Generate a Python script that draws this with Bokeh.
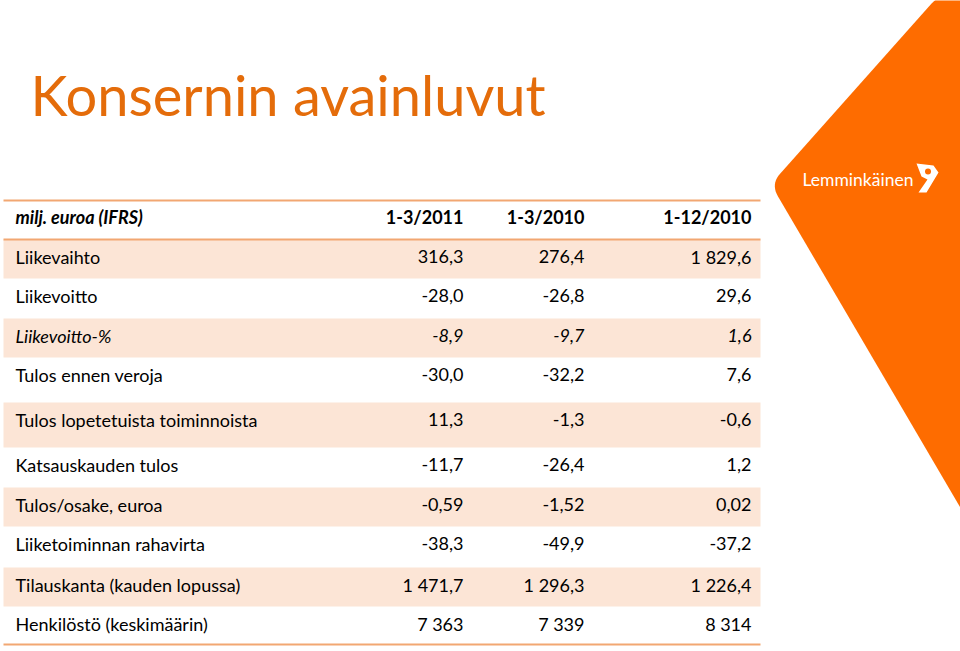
from bokeh.plotting import figure
from bokeh.models import Range1d, ColumnDataSource
from bokeh.core.properties import value
from bokeh.embed import file_html
from bokeh.resources import INLINE

# ---------------- data ----------------
title = "Konsernin avainluvut"
unit_label = "milj. euroa (IFRS)"
periods = ["1-3/2011", "1-3/2010", "1-12/2010"]
labels = [
    "Liikevaihto",
    "Liikevoitto",
    "Liikevoitto-%",
    "Tulos ennen veroja",
    "Tulos lopetetuista toiminnoista",
    "Katsauskauden tulos",
    "Tulos/osake, euroa",
    "Liiketoiminnan rahavirta",
    "Tilauskanta (kauden lopussa)",
    "Henkilöstö (keskimäärin)",
]
q1_2011 = [316.3, -28.0, -8.9, -30.0, 11.3, -11.7, -0.59, -38.3, 1471.7, 7363]
q1_2010 = [276.4, -26.8, -9.7, -32.2, -1.3, -26.4, -1.52, -49.9, 1296.3, 7339]
fy_2010 = [1829.6, 29.6, 1.6, 7.6, -0.6, 1.2, 0.02, -37.2, 1226.4, 8314]
decimals = [1, 1, 1, 1, 1, 1, 2, 1, 1, 0]
italic_rows = ["Liikevoitto-%"]
brand = "Lemminkäinen"

# ---------------- layout (pixel space of the slide) ----------------
W, H = 960, 651
row_tops = [239, 278, 318, 357, 402, 447, 487, 526, 567, 606]
row_bottom_last = 644
header_top, header_text_y = 200, 216
text_drop = 17
table_left, table_right = 3, 760
label_x = 15
col_right = [463, 584, 751]

ORANGE = "#FE6C00"
TITLE_C = "#E46C0A"
LINE_C = "#F2A772"
SHADE_C = "#FCE5D6"
FONT = "Lato"
BODY_SIZE = "18px"


def fmt(v, d):
    s = f"{abs(v):,.{d}f}".replace(",", " ").replace(".", ",")
    return ("-" if v < 0 else "") + s


p = figure(width=W, height=H, x_range=Range1d(0, W), y_range=Range1d(H, 0),
           output_backend="svg", toolbar_location=None, x_axis_type=None, y_axis_type=None,
           min_border=0, outline_line_color=None, background_fill_color="white",
           border_fill_color="white")
p.xgrid.visible = False
p.ygrid.visible = False


# ---- orange brand shape (decoration) ----
def rounded_vertex(prev_pt, v, next_pt, r, n=10):
    import math
    def unit(a, b):
        dx, dy = b[0] - a[0], b[1] - a[1]
        L = math.hypot(dx, dy)
        return dx / L, dy / L
    u1 = unit(v, prev_pt)
    u2 = unit(v, next_pt)
    p0 = (v[0] + u1[0] * r, v[1] + u1[1] * r)
    p2 = (v[0] + u2[0] * r, v[1] + u2[1] * r)
    pts = []
    for i in range(n + 1):
        t = i / n
        x = (1 - t) ** 2 * p0[0] + 2 * (1 - t) * t * v[0] + t ** 2 * p2[0]
        y = (1 - t) ** 2 * p0[1] + 2 * (1 - t) * t * v[1] + t ** 2 * p2[1]
        pts.append((x, y))
    return pts

vertex = (770.3, 183.6)
top_corner = (933.5, 0.0)
bot_pt = (975, 533)
pts = ([(975, -10), (948, -10)]
       + rounded_vertex((948, -10), (935.5, -2), vertex, 10, 6)
       + rounded_vertex(top_corner, vertex, bot_pt, 14)
       + [bot_pt])
p.patch([q[0] for q in pts], [q[1] for q in pts], fill_color=ORANGE, line_color=None)

# brand text and mark
p.text(x=[802], y=[179], text=[brand], text_color="white", text_font=value(FONT),
       text_font_size=value("17.5px"), text_baseline="middle", text_align="left")
p.patch([916, 933, 938, 926, 918, 927, 921], [163, 165, 172, 192, 192, 179, 176],
        fill_color="white", line_color=None)
p.scatter([927.5], [171], size=6, fill_color=ORANGE, line_color=None)

# ---- title ----
p.text(x=[30], y=[94], text=[title], text_color=TITLE_C, text_font=value(FONT),
       text_font_size=value("56px"), text_baseline="middle", text_align="left")

# ---- table shading ----
bottoms = row_tops[1:] + [row_bottom_last]
shade_idx = [i for i in range(len(labels)) if i % 2 == 0]
p.quad(left=table_left, right=table_right,
       top=[row_tops[i] for i in shade_idx], bottom=[bottoms[i] for i in shade_idx],
       fill_color=SHADE_C, line_color=None)

# ---- rules ----
p.segment(x0=table_left, x1=table_right, y0=[header_top, row_tops[0], row_bottom_last],
          y1=[header_top, row_tops[0], row_bottom_last], line_color=LINE_C, line_width=2)

# ---- header ----
p.text(x=[label_x], y=[header_text_y], text=[unit_label], text_color="black",
       text_font=value(FONT), text_font_size=value(BODY_SIZE), text_font_style="bold italic",
       text_baseline="middle", text_align="left")
p.text(x=col_right, y=[header_text_y] * 3, text=periods, text_color="black",
       text_font=value(FONT), text_font_size=value(BODY_SIZE), text_font_style="bold",
       text_baseline="middle", text_align="right")

# ---- body ----
ys = [t + text_drop for t in row_tops]
styles = ["italic" if l in italic_rows else "normal" for l in labels]
src = ColumnDataSource(dict(x=[label_x] * len(labels), y=ys, text=labels, style=styles))
p.text(x="x", y="y", text="text", source=src, text_color="black", text_font=value(FONT),
       text_font_size=value(BODY_SIZE), text_font_style="style",
       text_baseline="middle", text_align="left")
for cx, series in zip(col_right, [q1_2011, q1_2010, fy_2010]):
    s = ColumnDataSource(dict(x=[cx] * len(series), y=ys,
                              text=[fmt(v, d) for v, d in zip(series, decimals)],
                              style=styles))
    p.text(x="x", y="y", text="text", source=s, text_color="black", text_font=value(FONT),
           text_font_size=value(BODY_SIZE), text_font_style="style",
           text_baseline="middle", text_align="right")

open("out.html", "w").write(file_html(p, INLINE))
